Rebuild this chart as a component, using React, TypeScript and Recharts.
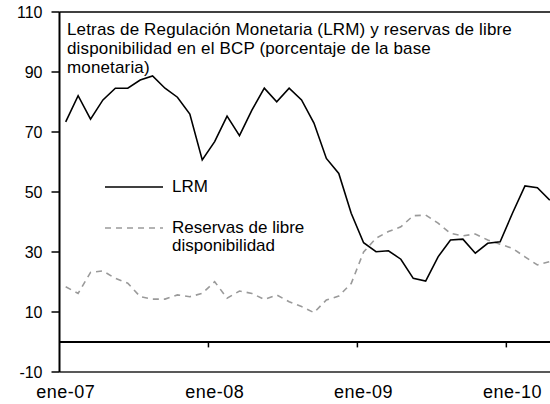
import { LineChart, Line, XAxis, YAxis, ReferenceLine } from "recharts";

const meses = [
  "ene-07", "feb-07", "mar-07", "abr-07", "may-07", "jun-07", "jul-07", "ago-07", "sep-07", "oct-07", "nov-07", "dic-07",
  "ene-08", "feb-08", "mar-08", "abr-08", "may-08", "jun-08", "jul-08", "ago-08", "sep-08", "oct-08", "nov-08", "dic-08",
  "ene-09", "feb-09", "mar-09", "abr-09", "may-09", "jun-09", "jul-09", "ago-09", "sep-09", "oct-09", "nov-09", "dic-09",
  "ene-10", "feb-10", "mar-10", "abr-10",
];

const lrm = [
  73.4, 82.1, 74.3, 80.7, 84.6, 84.6, 87.3, 88.7, 84.6, 81.6,
  76, 60.7, 66.8, 75.3, 68.8, 77.3, 84.6, 80.1, 84.6, 80.7,
  73, 61.2, 56.2, 42.9, 33.1, 30.1, 30.4, 27.6, 21.2, 20.3,
  28.4, 34, 34.3, 29.6, 32.9, 33.4, 43, 52, 51.4, 47.3,
];

const reservas = [
  18.4, 16.2, 23.2, 23.7, 21.2, 19.6, 15.1, 14.3, 14.3, 15.7,
  15.1, 16.2, 20.1, 14.6, 17, 16.2, 14.2, 15.7, 13.4, 11.8,
  9.8, 14, 15.3, 19.5, 30, 34.6, 36.8, 38.4, 42.1, 42.3,
  39.6, 36.2, 35.4, 36, 34, 32.6, 31.2, 28.4, 25.7, 26.8,
];

const yTicks = [-10, 10, 30, 50, 70, 90, 110];
const xTicks = [0, 12, 24, 36];
// year boundaries (ticks between categories)
const limites = [11.5, 23.5, 35.5];

const font = '"Liberation Sans", Arial, sans-serif';

const data = meses.map((m, i) => ({ idx: i, mes: m, lrm: lrm[i], reservas: reservas[i] }));

function Leyenda() {
  return (
    <div
      style={{
        position: "absolute",
        left: 105,
        top: 177,
        fontFamily: font,
        fontSize: 17,
        color: "#000",
        lineHeight: "18px",
      }}
    >
      <div style={{ display: "flex", alignItems: "center", height: 20 }}>
        <svg width={67} height={4}>
          <line x1={0} y1={2} x2={58} y2={2} stroke="#000" strokeWidth={1.6} />
        </svg>
        <span>LRM</span>
      </div>
      <div style={{ display: "flex", alignItems: "flex-start", marginTop: 22 }}>
        <svg width={67} height={18} style={{ flexShrink: 0 }}>
          <line x1={0} y1={9} x2={58} y2={9} stroke="#9a9a9a" strokeWidth={1.6} strokeDasharray="6 5" />
        </svg>
        <span>
          Reservas de libre
          <br />
          disponibilidad
        </span>
      </div>
    </div>
  );
}

export default function App() {
  return (
    <div style={{ position: "absolute", left: 0, top: 0, width: 550, height: 404, overflow: "hidden", background: "#fff" }}>
      <LineChart width={570} height={404} data={data} margin={{ top: 12, right: 14, bottom: 0, left: 0 }}>
        <XAxis
          type="number"
          dataKey="idx"
          domain={[-0.5, 39.5]}
          ticks={xTicks}
          tickFormatter={(v: number) => meses[v]}
          interval={0}
          height={32}
          tickSize={0}
          tickMargin={13}
          tickLine={false}
          axisLine={{ stroke: "#222", strokeWidth: 1.5 }}
          tick={{ fill: "#000", fontSize: 18, fontFamily: font, letterSpacing: 0.5 }}
          allowDataOverflow
        />
        <YAxis
          domain={[-10, 110]}
          ticks={yTicks}
          interval={0}
          width={59.5}
          tickSize={8}
          tickMargin={9}
          axisLine={{ stroke: "#000", strokeWidth: 2 }}
          tickLine={{ stroke: "#000", strokeWidth: 1.5 }}
          tick={{ fill: "#000", fontSize: 16, fontFamily: font }}
        />
        <ReferenceLine y={110} stroke="#000" strokeWidth={1.5} />
        <ReferenceLine y={0} stroke="#000" strokeWidth={2} />
        {limites.map((x) => (
          <ReferenceLine
            key={x}
            segment={[
              { x, y: 0 },
              { x, y: -1.8 },
            ]}
            stroke="#000"
            strokeWidth={1.5}
          />
        ))}
        <Line
          type="linear"
          dataKey="reservas"
          stroke="#9a9a9a"
          strokeWidth={1.6}
          strokeDasharray="6 5"
          dot={false}
          isAnimationActive={false}
        />
        <Line type="linear" dataKey="lrm" stroke="#000" strokeWidth={1.6} dot={false} isAnimationActive={false} />
      </LineChart>
      <Leyenda />
      <div
        style={{
          position: "absolute",
          left: 67,
          top: 20,
          fontFamily: font,
          fontSize: 17,
          letterSpacing: 0.15,
          lineHeight: "19px",
          color: "#000",
          whiteSpace: "nowrap",
        }}
      >
        Letras de Regulación Monetaria (LRM) y reservas de libre
        <br />
        disponibilidad en el BCP (porcentaje de la base
        <br />
        monetaria)
      </div>
    </div>
  );
}
